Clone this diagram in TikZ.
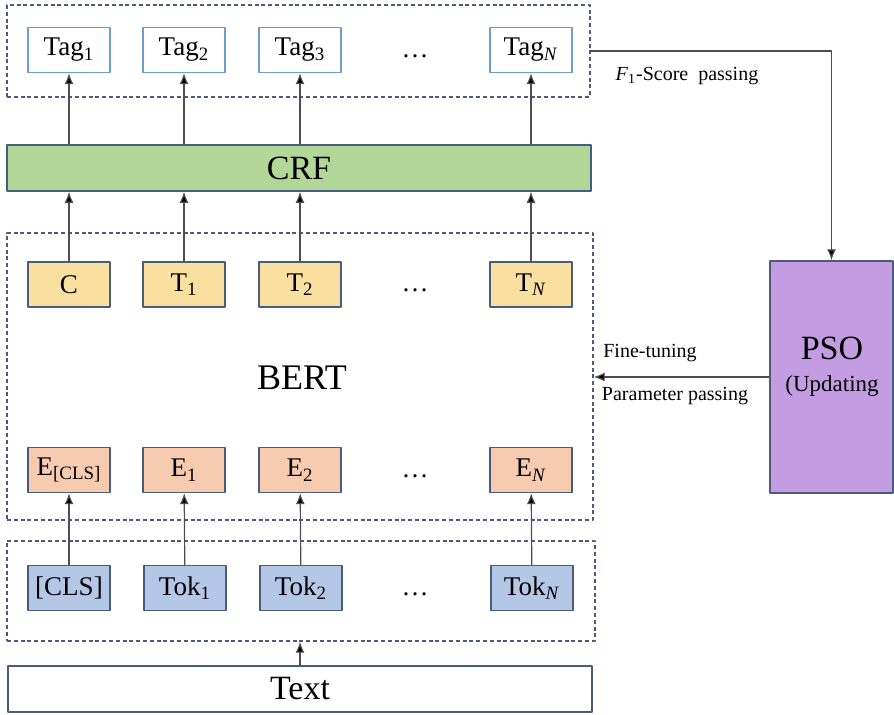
\documentclass[tikz,border=0pt]{standalone}
\usepackage{fontspec}
\setmainfont{Liberation Serif}
\usetikzlibrary{arrows.meta,positioning}
\definecolor{edgeblue}{HTML}{4A5B7E}
\definecolor{tagblue}{HTML}{6F9DCB}
\definecolor{crfgreen}{HTML}{B3D798}
\definecolor{outyellow}{HTML}{F9E0A0}
\definecolor{embpink}{HTML}{F7CBB0}
\definecolor{tokblue}{HTML}{B4C7E7}
\definecolor{psopurple}{HTML}{C49CE1}
\definecolor{arrowgray}{HTML}{4D4D4D}
\tikzset{
  cell/.style={draw=edgeblue, line width=0.7pt, minimum width=41pt, minimum height=22.5pt,
    inner sep=0pt, font=\fontsize{13.5}{15}\selectfont},
  tagcell/.style={cell, draw=tagblue, fill=white},
  outcell/.style={cell, fill=outyellow},
  embcell/.style={cell, fill=embpink},
  tokcell/.style={cell, fill=tokblue},
  group/.style={draw=edgeblue, line width=0.7pt, dash pattern=on 2pt off 1.4pt, inner sep=0pt},
  wide/.style={draw=edgeblue, line width=0.8pt, inner sep=0pt, font=\fontsize{17}{19}\selectfont},
  lbl/.style={inner sep=0pt, font=\fontsize{10}{12}\selectfont},
  dots/.style={inner sep=0pt, font=\fontsize{13.5}{15}\selectfont}
}
\begin{document}
\begin{tikzpicture}[x=0.5pt, y=-0.5pt, line join=round, >={Latex[length=5.5pt,width=4.5pt,fill=black]}]
  \useasboundingbox (0,0) rectangle (894,714);
  % dashed groups
  \node[group, minimum width=291.5pt, minimum height=46pt] (tagsgrp) at (298.5,51) {};
  \node[group, minimum width=293pt, minimum height=143.5pt] (bertgrp) at (300,376.5) {};
  \node[group, minimum width=294pt, minimum height=50pt] (toksgrp) at (301,591) {};
  % output tags
  \node[tagcell] (tag1) at (69,50) {Tag\textsubscript{1}};
  \node[tagcell] (tag2) at (184,50) {Tag\textsubscript{2}};
  \node[tagcell] (tag3) at (300,50) {Tag\textsubscript{3}};
  \node[dots] (tagdots) at (415,56) {…};
  \node[tagcell] (tagn) at (531,50) {Tag\textsubscript{\textit{N}}};
  % CRF layer
  \node[wide, fill=crfgreen, minimum width=292pt, minimum height=23pt] (crf) at (299,168) {CRF};
  % BERT outputs
  \node[outcell] (t0) at (69,284.5) {C};
  \node[outcell] (t1) at (184,284.5) {T\textsubscript{1}};
  \node[outcell] (t2) at (300,284.5) {T\textsubscript{2}};
  \node[dots] (tdots) at (415,290) {…};
  \node[outcell] (tn) at (531,284.5) {T\textsubscript{\textit{N}}};
  \node[inner sep=0pt, font=\fontsize{18}{20}\selectfont] (bert) at (302,378) {BERT};
  % embeddings
  \node[embcell] (e0) at (69,470) {E\textsubscript{[CLS]}};
  \node[embcell] (e1) at (184,470) {E\textsubscript{1}};
  \node[embcell] (e2) at (300,470) {E\textsubscript{2}};
  \node[dots] (edots) at (415,476) {…};
  \node[embcell] (en) at (531,470) {E\textsubscript{\textit{N}}};
  % tokens
  \node[tokcell] (tok0) at (69,588) {[CLS]};
  \node[tokcell] (tok1) at (185,588) {Tok\textsubscript{1}};
  \node[tokcell] (tok2) at (301,588) {Tok\textsubscript{2}};
  \node[dots] (tokdots) at (415,594) {…};
  \node[tokcell] (tokn) at (532,588) {Tok\textsubscript{\textit{N}}};
  \node[wide, fill=white, minimum width=292pt, minimum height=23pt] (text) at (300,689) {Text};
  % PSO
  \node[draw=edgeblue, line width=0.7pt, fill=psopurple, minimum width=61.5pt, minimum height=116pt,
    inner sep=0pt] (pso) at (831.5,377) {};
  \node[inner sep=0pt, font=\fontsize{17}{19}\selectfont] (psoname) at (832,348) {PSO};
  \node[inner sep=0pt, font=\fontsize{11.5}{14}\selectfont] (psonote) at (832,386) {(Updating};
  \node[lbl] (finetune) at (650,353) {Fine-tuning};
  \node[lbl] (parampass) at (675,396) {Parameter passing};
  \node[lbl] (f1pass) at (687,76) {\textit{F}\textsubscript{1}-Score\ \ passing};
  % connectors
  \begin{scope}[draw=arrowgray, line width=0.6pt]
    \foreach \c in {1,2,3,n}
      \draw[->] (crf.north -| tag\c) -- (tag\c);
    \foreach \c in {0,1,2,n}
      \draw[->] (t\c) -- (t\c |- crf.south);
    \foreach \c in {0,1,2,n}
      \draw[->] (tok\c) -- (e\c);
    \draw[->] (text.north) -- (text.north |- toksgrp.south);
    \draw[->] (pso.west) -- (pso.west -| bertgrp.east);
    \draw[->] (tagsgrp.east) -| (pso.north);
  \end{scope}
\end{tikzpicture}
\end{document}
